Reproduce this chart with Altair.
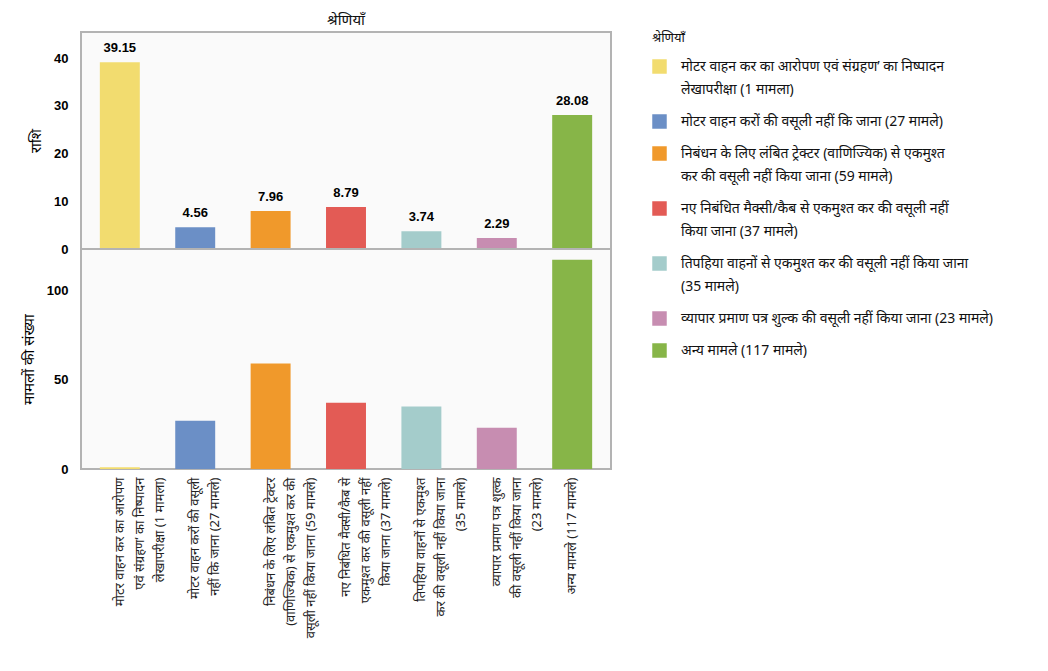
import altair as alt
import pandas as pd

legend_labels = [
    "मोटर वाहन कर का आरोपण एवं संग्रहण’ का निष्पादन|लेखापरीक्षा (1 मामला)",
    "मोटर वाहन करों की वसूली नहीं कि जाना (27 मामले)",
    "निबंधन के लिए लंबित ट्रेक्टर (वाणिज्यिक) से एकमुश्त|कर की वसूली नहीं किया जाना (59 मामले)",
    "नए निबंधित मैक्सी/कैब से एकमुश्त कर की वसूली नहीं|किया जाना (37 मामले)",
    "तिपहिया वाहनों से एकमुश्त कर की वसूली नहीं किया जाना|(35 मामले)",
    "व्यापार प्रमाण पत्र शुल्क की वसूली नहीं किया जाना (23 मामले)",
    "अन्य मामले (117 मामले)",
]
axis_labels = [
    "मोटर वाहन कर का आरोपण~एवं संग्रहण’ का निष्पादन~लेखापरीक्षा (1 मामला)",
    "मोटर वाहन करों की वसूली~नहीं कि जाना (27 मामले)",
    "निबंधन के लिए लंबित ट्रेक्टर~(वाणिज्यिक) से एकमुश्त कर की~वसूली नहीं किया जाना (59 मामले)",
    "नए निबंधित मैक्सी/कैब से~एकमुश्त कर की वसूली नहीं~किया जाना (37 मामले)",
    "तिपहिया वाहनों से एकमुश्त~कर की वसूली नहीं किया जाना~(35 मामले)",
    "व्यापार प्रमाण पत्र शुल्क~की वसूली नहीं किया जाना~(23 मामले)",
    "अन्य मामले (117 मामले)",
]
amounts = [39.15, 4.56, 7.96, 8.79, 3.74, 2.29, 28.08]
cases = [1, 27, 59, 37, 35, 23, 117]
colors = ["#f2dc6f", "#6b8fc6", "#f0992b", "#e35b55", "#a4cccb", "#c78db1", "#87b548"]

df = pd.DataFrame({
    "cat": legend_labels,
    "xl": axis_labels,
    "amount": amounts,
    "cases": cases,
})

FONT = "Noto Sans"
NUMFONT = "Liberation Sans"

xscale = alt.Scale(paddingInner=0.47, paddingOuter=0.25)
x_enc_top = alt.X("xl:N", sort=axis_labels, axis=None, scale=xscale)
x_enc_bot = alt.X("xl:N", sort=axis_labels, title=None, scale=xscale,
                  axis=alt.Axis(labelAngle=-90, labelExpr="split(datum.label, '~')",
                                labelFontSize=13, labelLineHeight=20, labelColor="#222",
                                labelFont=FONT, domain=False, ticks=False, labelPadding=8,
                                labelLimit=300))
color_enc = alt.Color("cat:N", sort=legend_labels,
                      scale=alt.Scale(domain=legend_labels, range=colors),
                      legend=alt.Legend(title="श्रेणियाँ", orient="right", offset=40,
                                        labelExpr="split(datum.label, '|')",
                                        labelFontSize=14, labelFont=FONT, labelLimit=450,
                                        labelColor="#111",
                                        titleFontSize=13, titleFont=FONT, titleFontWeight="normal",
                                        titleColor="#111",
                                        symbolType="square", symbolSize=210, symbolStrokeWidth=0,
                                        rowPadding=17, titlePadding=14, labelOffset=14))

base_top = alt.Chart(df).encode(x=x_enc_top)
bars_top = base_top.mark_bar().encode(
    y=alt.Y("amount:Q", title="राशि", scale=alt.Scale(domain=[0, 45.5], nice=False),
            axis=alt.Axis(values=[0, 10, 20, 30, 40])),
    color=color_enc,
)
text_top = base_top.mark_text(baseline="bottom", dy=-7, fontWeight="bold", fontSize=13,
                              font=NUMFONT, color="black").encode(
    y="amount:Q", text=alt.Text("amount:Q", format=".2f"))
top = (bars_top + text_top).properties(
    width=530, height=217,
    title=alt.TitleParams("श्रेणियाँ", fontSize=15, font=FONT, fontWeight="normal",
                          anchor="middle", offset=4, color="#111"),
)

bottom = alt.Chart(df).mark_bar().encode(
    x=x_enc_bot,
    y=alt.Y("cases:Q", title="मामलों की संख्या", scale=alt.Scale(domain=[0, 123], nice=False),
            axis=alt.Axis(values=[0, 50, 100])),
    color=color_enc,
).properties(width=530, height=220)

chart = alt.vconcat(top, bottom, spacing=0, bounds="flush").properties(
    padding={"left": 12, "top": 4, "right": 2, "bottom": 2},
).configure(
    style={"guide-label": {"lineHeight": 23}}
).configure_view(
    stroke="#b3b3b3", strokeWidth=2, fill="#fafafa"
).configure_axisY(
    domain=False, ticks=False, grid=False, labelFontWeight="bold", labelFontSize=13,
    labelFont=NUMFONT, labelColor="black", labelPadding=13,
    titleFontSize=15, titleFont=FONT, titleFontWeight="normal", titleColor="black",
    titlePadding=10,
)

chart.save("out.html", embed_options={"renderer": "svg", "actions": False})
